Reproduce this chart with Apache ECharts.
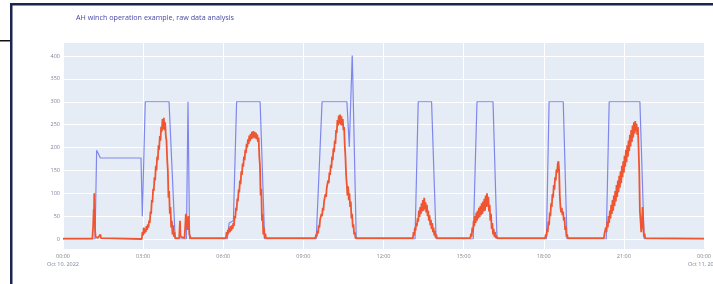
<!DOCTYPE html>
<html>
<head>
<meta charset="utf-8">
<script src="https://cdn.jsdelivr.net/npm/echarts@6/dist/echarts.min.js"></script>
<style>
  html, body { margin: 0; padding: 0; background: #fff; }
  #chart { width: 713px; height: 284px; }
</style>
</head>
<body>
<div id="chart"></div>
<script>
// hours since Oct 10, 2022 00:00
const xTicks = [0, 3, 6, 9, 12, 15, 18, 21, 24]
const yTicks = [0, 50, 100, 150, 200, 250, 300, 350, 400]

// blue trace: [hour, value]
const bluePoints = [
  [0, 0], [1.2, 0], [1.26, 194], [1.33, 194], [1.4, 177], [2.92, 177], [2.97, 50], [3.02, 50], [3.08, 300],
  [3.97, 300], [4.2, 0], [4.62, 0], [4.68, 300], [4.74, 0],
  [6.15, 0], [6.22, 35], [6.38, 40], [6.5, 300], [7.38, 300], [7.55, 0],
  [9.48, 0], [9.7, 300], [10.63, 300], [10.72, 201], [10.83, 406], [10.98, 0],
  [13.18, 0], [13.3, 300], [13.8, 300], [13.97, 0],
  [15.36, 0], [15.5, 300], [16.1, 300], [16.25, 0],
  [18.1, 0], [18.2, 300], [18.73, 300], [18.87, 0],
  [20.34, 0], [20.45, 300], [21.6, 300], [21.76, 0],
  [24, 0]
]

// orange trace, irregular bits: [hour, value]
const orangeSpike = [[0, 1], [1.1, 1], [1.13, 30], [1.15, 65], [1.16, 40], [1.17, 100], [1.18, 55], [1.19, 70], [1.2, 20], [1.22, 5], [1.3, 2], [1.4, 10], [1.42, 2]]
const orangeBumps = [[4.35, 2], [4.38, 40], [4.4, 5], [4.45, 2], [4.55, 2], [4.58, 30], [4.6, 55], [4.63, 45], [4.66, 20], [4.7, 50], [4.73, 10], [4.78, 2]]
const orangeTail = [[24, 1]]

// orange trace, sampled runs
const orangeStep = 0.025
const orangeStarts = [2.95, 6.1, 9.45, 13.1, 15.25, 18.05, 20.25]
const orangeRun1 = [0, 15, 8, 25, 12, 22, 15, 28, 20, 32, 25, 40, 35, 60, 55, 85, 80, 110, 105, 135, 128, 160, 150, 180, 172, 205, 195, 225, 215, 245, 235, 262, 240, 265, 238, 255, 225, 215, 175, 150, 90, 105, 55, 70, 25, 40, 10, 30, 5, 15, 2]
const orangeRun2 = [2, 15, 8, 20, 12, 25, 15, 28, 18, 30, 22, 35, 28, 50, 45, 68, 62, 88, 82, 108, 102, 128, 120, 148, 140, 165, 158, 180, 172, 195, 188, 208, 200, 218, 208, 226, 214, 230, 218, 234, 220, 236, 222, 234, 220, 232, 218, 228, 212, 222, 180, 160, 95, 110, 40, 55, 10, 25, 2, 12, 2]
const orangeRun3 = [2, 10, 5, 18, 12, 30, 25, 42, 38, 55, 50, 68, 62, 82, 78, 98, 92, 112, 108, 128, 122, 145, 140, 162, 155, 180, 172, 198, 190, 215, 208, 238, 232, 260, 248, 270, 252, 272, 250, 268, 248, 262, 238, 245, 205, 180, 140, 120, 95, 115, 85, 100, 70, 82, 45, 55, 25, 32, 10, 15, 2, 6, 2]
const orangeRun4 = [2, 15, 8, 25, 18, 35, 28, 45, 38, 62, 48, 70, 55, 78, 60, 85, 62, 90, 65, 80, 58, 75, 50, 62, 40, 52, 30, 42, 22, 35, 15, 25, 8, 18, 3, 10, 2]
const orangeRun5 = [2, 12, 5, 25, 15, 40, 28, 50, 35, 58, 40, 62, 45, 68, 48, 72, 52, 78, 55, 82, 60, 88, 62, 95, 70, 100, 72, 92, 60, 75, 40, 55, 22, 35, 10, 22, 5, 15, 2, 8, 2]
const orangeRun6 = [2, 10, 5, 22, 15, 38, 30, 58, 50, 78, 70, 98, 90, 118, 108, 135, 128, 152, 145, 165, 170, 150, 95, 70, 58, 68, 52, 60, 40, 48, 20, 28, 5, 10, 2]
const orangeRun7 = [2, 12, 8, 25, 15, 38, 25, 50, 35, 62, 45, 75, 55, 85, 62, 95, 72, 105, 82, 118, 92, 128, 102, 138, 112, 148, 122, 160, 135, 170, 145, 182, 158, 195, 168, 205, 180, 215, 192, 228, 202, 238, 212, 248, 222, 255, 230, 258, 235, 252, 228, 245, 200, 150, 60, 40, 15, 30, 70, 35, 5, 12, 2]

const runs = [orangeRun1, orangeRun2, orangeRun3, orangeRun4, orangeRun5, orangeRun6, orangeRun7]
const runPoints = runs.map((vals, k) => vals.map((v, i) => [orangeStarts[k] + i * orangeStep, v]))
const orangePoints = [].concat(orangeSpike, runPoints[0], orangeBumps, runPoints[1], runPoints[2],
  runPoints[3], runPoints[4], runPoints[5], runPoints[6], orangeTail)

function timeLabel (h) {
  const hh = String(h % 24).padStart(2, '0') + ':00'
  if (h === 0) return hh + '\nOct 10, 2022'
  if (h === 24) return hh + '\nOct 11, 2022'
  return hh
}

const chart = echarts.init(document.getElementById('chart'), null, { renderer: 'canvas' })
const labelStyle = { color: '#7d8299', fontSize: 5.5, fontFamily: 'Open Sans' }

chart.setOption({
  animation: false,
  backgroundColor: '#fff',
  title: {
    text: 'AH winch operation example, raw data analysis',
    left: 71,
    top: 9,
    textStyle: { color: '#4848a8', fontSize: 7.2, fontWeight: 'normal', fontFamily: 'Open Sans' }
  },
  graphic: [
    // photo frame around the screenshot
    { type: 'rect', shape: { x: 10, y: 3, width: 710, height: 2.5 }, style: { fill: '#1c2552' }, z: 100 },
    { type: 'rect', shape: { x: 10, y: 3, width: 2.5, height: 290 }, style: { fill: '#1c2552' }, z: 100 },
    { type: 'rect', shape: { x: 0, y: 40, width: 10, height: 1.5 }, style: { fill: '#111' }, z: 100 }
  ],
  grid: [
    { left: 63, right: 9, top: 43, bottom: 35, show: true, backgroundColor: '#e6ecf6', borderWidth: 0, outerBoundsMode: 'none' },
    { left: 63, right: 9, top: 56, bottom: 45, outerBoundsMode: 'none' }
  ],
  xAxis: [
    {
      gridIndex: 0,
      type: 'value',
      min: xTicks[0],
      max: xTicks[xTicks.length - 1],
      interval: 3,
      axisLine: { show: false },
      axisTick: { show: false },
      splitLine: { lineStyle: { color: '#fff', width: 1 } },
      axisLabel: Object.assign({ margin: 3, lineHeight: 8, formatter: timeLabel }, labelStyle)
    },
    { gridIndex: 1, type: 'value', min: 0, max: 24, show: false }
  ],
  yAxis: [
    { gridIndex: 0, type: 'value', min: 0, max: 1, show: false },
    {
      gridIndex: 1,
      type: 'value',
      min: yTicks[0],
      max: yTicks[yTicks.length - 1],
      interval: 50,
      axisLine: { show: false },
      axisTick: { show: false },
      splitLine: { lineStyle: { color: '#fff', width: 1 } },
      axisLabel: Object.assign({ margin: 3 }, labelStyle)
    }
  ],
  series: [
    {
      type: 'line',
      xAxisIndex: 1,
      yAxisIndex: 1,
      data: bluePoints,
      showSymbol: false,
      lineStyle: { color: '#7f87ec', width: 1.2 }
    },
    {
      type: 'line',
      xAxisIndex: 1,
      yAxisIndex: 1,
      data: orangePoints,
      showSymbol: false,
      lineStyle: { color: '#ef5530', width: 1.8 }
    }
  ]
})
</script>
</body>
</html>
